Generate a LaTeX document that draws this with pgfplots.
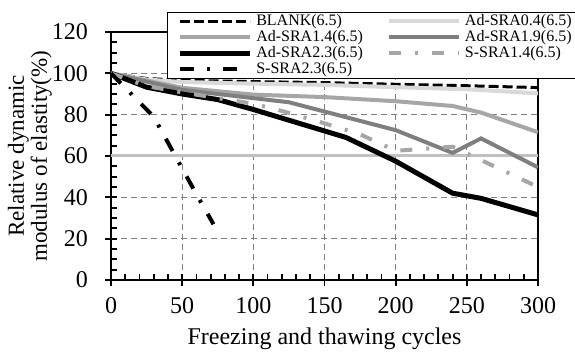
\documentclass[border=0pt]{standalone}
\usepackage{fontspec}
\setmainfont{Liberation Serif}
\usepackage{pgfplots}
\pgfplotsset{compat=1.18}
\definecolor{lg}{HTML}{D9D9D9}
\definecolor{mg}{HTML}{A6A6A6}
\definecolor{dg}{HTML}{7F7F7F}
\definecolor{sixty}{HTML}{C0C0C0}
\begin{document}
\begin{tikzpicture}
\begin{axis}[
  name=ax,
  scale only axis,
  width=213.5pt, height=124pt,
  xmin=0, xmax=300, ymin=0, ymax=120,
  xtick={0,50,...,300}, ytick={0,20,...,120},
  minor x tick num=4, minor y tick num=3,
  tick align=inside, tick pos=left,
  major tick length=6pt, minor tick length=3pt,
  every major x tick/.append style={yshift=-3pt},
  every major y tick/.append style={xshift=-3pt},
  axis line style={line width=1pt},
  every tick/.append style={line width=0.9pt, black},
  grid=major,
  major grid style={dash pattern=on 3pt off 2pt, dg, line width=0.5pt},
  /pgf/number format/assume math mode=true,
  tick label style={font=\fontsize{12}{14}\selectfont},
  yticklabel style={xshift=-8pt},
  xticklabel style={yshift=-5pt},
  xlabel={Freezing and thawing cycles},
  ylabel={Relative dynamic\\modulus of elastity(\%)},
  every axis x label/.style={at={(axis description cs:0.5,-0.26)}, anchor=base, font=\fontsize{12}{14}\selectfont},
  every axis y label/.style={at={(axis description cs:-0.19,0.5)}, rotate=90, anchor=center, align=center, font=\fontsize{11.5}{10.5}\selectfont},
  legend columns=2,
  legend cell align=left,
  legend image code/.code={\draw[#1] (0pt,0pt) -- (35pt,0pt);},
  legend style={at={(axis description cs:0.1304,1.0819)}, anchor=north west,
    draw=black, line width=0.6pt, fill=white,
    inner xsep=5pt, inner ysep=0.5pt,
    font=\fontsize{8}{9}\selectfont,
    nodes={inner xsep=2pt, inner ysep=0.5pt, text height=5.5pt, text depth=1.5pt},
    row sep=0pt,
    /tikz/every even column/.append style={column sep=10pt}},
]
\addplot[sixty, line width=1.5pt, forget plot] coordinates {(0,60) (300,60)};
\addplot[black, line width=1.5pt, dash pattern=on 5pt off 2pt] coordinates {
(0,100) (25,97.5) (50,96.6) (100,96) (150,95.5) (200,94.7) (250,94) (300,93.1)};
\addlegendentry{BLANK(6.5)}
\addplot[lg, line width=2pt] coordinates {
(0,100) (25,97) (50,95.8) (100,95) (150,94.4) (200,93.3) (250,92.3) (300,90.3)};
\addlegendentry{Ad-SRA0.4(6.5)}
\addplot[mg, line width=2pt] coordinates {
(0,100) (50,93) (100,89.7) (150,88.5) (200,86.5) (240,84.2) (260,81) (300,71.5)};
\addlegendentry{Ad-SRA1.4(6.5)}
\addplot[dg, line width=2pt] coordinates {
(0,100) (50,92) (125,86) (200,72.5) (240,61.5) (260,68.5) (300,54.5)};
\addlegendentry{Ad-SRA1.9(6.5)}
\addplot[black, line width=2.5pt] coordinates {
(0,100) (25,93.3) (50,90) (75,87.3) (100,82.5) (165,69) (200,57.5) (240,42) (260,39.5) (300,31.5)};
\addlegendentry{Ad-SRA2.3(6.5)}
\addplot[mg, line width=2pt, dash pattern=on 6pt off 7pt on 1.5pt off 7pt] coordinates {
(0,100) (25,93.8) (50,90.8) (75,88) (100,85.3) (120,81.8) (150,75.8) (175,70.5) (200,62.5) (220,63.5) (240,64.5) (300,45)};
\addlegendentry{S-SRA1.4(6.5)}
\addplot[black, line width=2pt, dash pattern=on 7pt off 6.5pt on 1.5pt off 6.5pt] coordinates {
(0,100) (30,79) (60,41.5) (72,27)};
\addlegendentry{S-SRA2.3(6.5)}
\end{axis}
\pgfresetboundingbox
\path ([shift={(-55.5pt,-38pt)}]ax.south west) rectangle ([shift={(18.5pt,16pt)}]ax.north east);
\end{tikzpicture}
\end{document}
